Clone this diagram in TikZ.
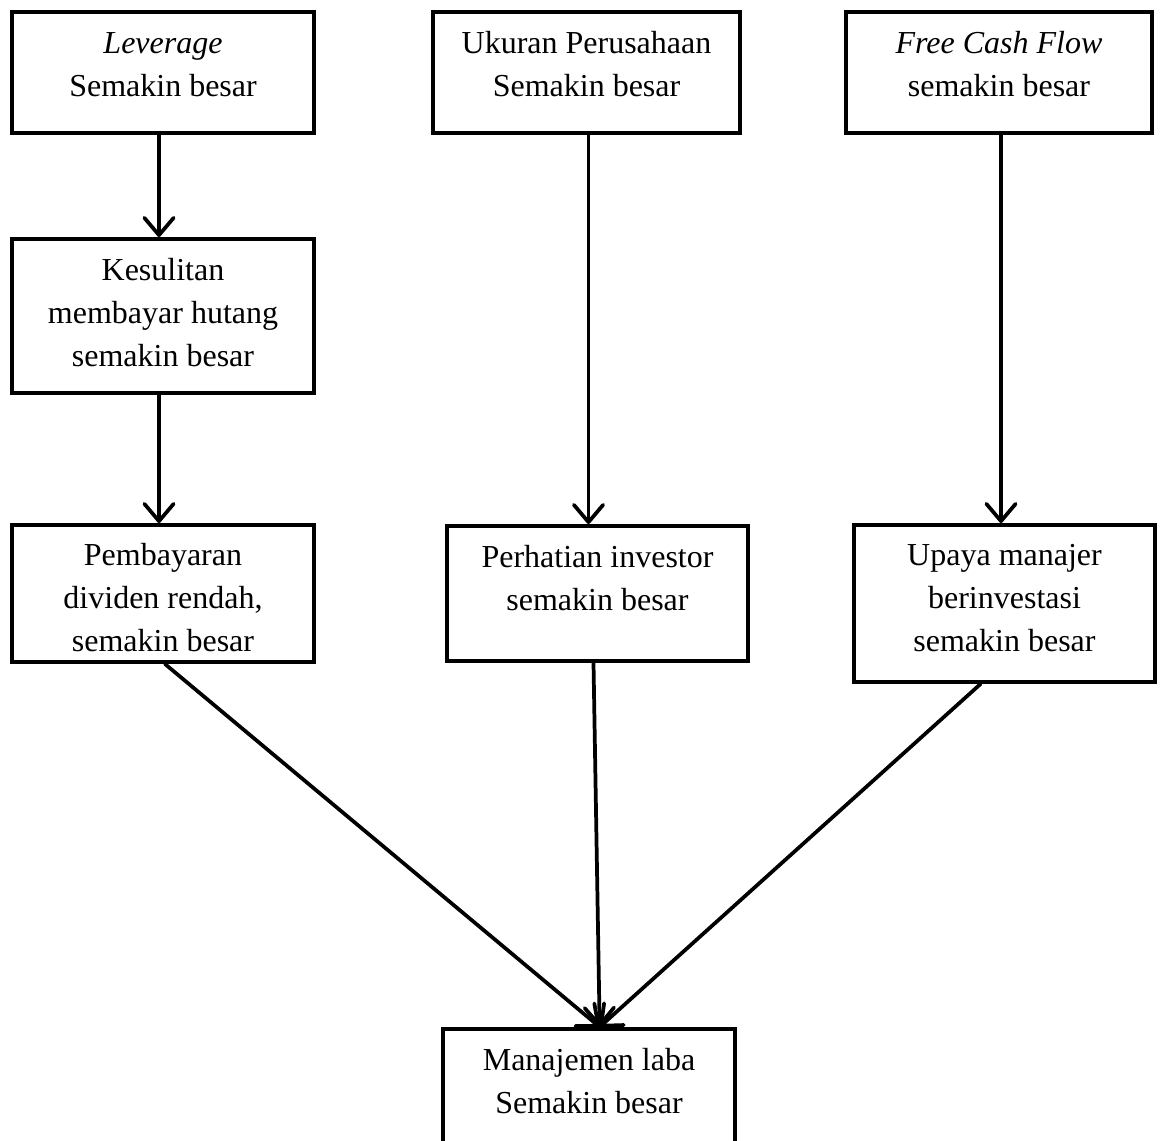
\documentclass[tikz,border=0pt]{standalone}
\usepackage{fontspec}
\setmainfont{Liberation Serif}
\usetikzlibrary{arrows.meta,calc}
\begin{document}
\begin{tikzpicture}[x=0.75pt,y=-0.75pt,
  box/.style={draw=black,line width=3pt,rectangle,inner sep=0pt,minimum width=#1},
  txt/.style={anchor=north,align=center,inner sep=0pt,font=\fontsize{24}{32.25}\selectfont},
  arr/.style={line width=2.8pt,line cap=round,-{Straight Barb[length=13pt,width=22pt,round]}}
]
\useasboundingbox (0,0) rectangle (1160,1140);
% boxes
\node[box=226.5pt,minimum height=90.75pt] (b1) at (163,72.5) {};
\node[box=226.5pt,minimum height=115.5pt] (b2) at (163,316) {};
\node[box=226.5pt,minimum height=102.75pt] (b3) at (163,593.5) {};
\node[box=230.25pt,minimum height=90.75pt] (b4) at (586.5,72.5) {};
\node[box=225.75pt,minimum height=101.25pt] (b5) at (597.5,593.5) {};
\node[box=229.5pt,minimum height=90.75pt] (b6) at (999,72.5) {};
\node[box=225.75pt,minimum height=117.75pt] (b7) at (1004.5,603.5) {};
\node[box=219pt,minimum height=92.25pt] (b8) at (589,1090.5) {};
% texts
\node[txt] (t1) at ($(b1.north)+(0,13)$) {\strut\textit{Leverage}\\Semakin besar};
\node[txt] (t2) at ($(b2.north)+(0,13)$) {\strut Kesulitan\\membayar hutang\\semakin besar};
\node[txt] (t3) at ($(b3.north)+(0,12)$) {\strut Pembayaran\\dividen rendah,\\semakin besar};
\node[txt] (t4) at ($(b4.north)+(0,13)$) {\strut Ukuran Perusahaan\\Semakin besar};
\node[txt] (t5) at ($(b5.north)+(0,13)$) {\strut Perhatian investor\\semakin besar};
\node[txt] (t6) at ($(b6.north)+(0,13)$) {\strut\textit{Free Cash Flow}\\semakin besar};
\node[txt] (t7) at ($(b7.north)+(0,12)$) {\strut Upaya manajer\\berinvestasi\\semakin besar};
\node[txt] (t8) at ($(b8.north)+(0,13)$) {\strut Manajemen laba\\Semakin besar};
% connectors
\coordinate (m) at ([xshift=8pt]b8.north);
\draw[arr] ([xshift=-3pt]b1.south) -- ([xshift=-3pt]b1.south |- b2.north);
\draw[arr] ([xshift=-3pt]b2.south) -- ([xshift=-3pt]b2.south |- b3.north);
\draw[arr] ([xshift=1.5pt]b4.south) -- ([xshift=1.5pt]b4.south |- b5.north);
\draw[arr] ([xshift=1.5pt]b6.south) -- ([xshift=1.5pt]b6.south |- b7.north);
\draw[arr] ([xshift=1.5pt]b3.south) -- (m);
\draw[arr] ([xshift=-3pt]b5.south) -- (m);
\draw[arr] ([xshift=-18pt]b7.south) -- (m);
\end{tikzpicture}
\end{document}
